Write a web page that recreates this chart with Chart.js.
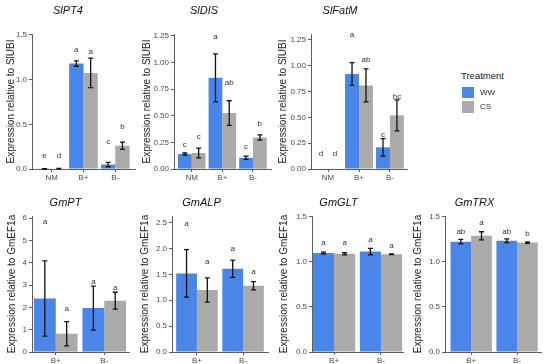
<!DOCTYPE html>
<html>
<head>
<meta charset="utf-8">
<script src="https://cdn.jsdelivr.net/npm/chart.js@4.4.0/dist/chart.umd.min.js"></script>
<style>
  html, body { margin:0; padding:0; background:#fff; width:550px; height:364px; overflow:hidden; position:relative; }
  .box { position:absolute; }
  .lg { position:absolute; font-family:'Liberation Sans', Arial, sans-serif; color:#222; white-space:nowrap; }
  .sw { position:absolute; width:12px; }
</style>
</head>
<body>
<div class="box" style="left:1px;top:0;width:150px;height:183px"><canvas id="c1"></canvas></div>
<div class="box" style="left:137px;top:0;width:160px;height:183px"><canvas id="c2"></canvas></div>
<div class="box" style="left:273px;top:0;width:174px;height:183px"><canvas id="c3"></canvas></div>
<div class="box" style="left:2px;top:188px;width:160px;height:176px"><canvas id="c4"></canvas></div>
<div class="box" style="left:135px;top:188px;width:170px;height:176px"><canvas id="c5"></canvas></div>
<div class="box" style="left:274px;top:188px;width:162px;height:176px"><canvas id="c6"></canvas></div>
<div class="box" style="left:408px;top:188px;width:170px;height:176px"><canvas id="c7"></canvas></div>

<!-- légende -->
<div class="lg" style="left:461px;top:70px;height:12px;line-height:12px;font-size:9.5px">Treatment</div>
<div class="sw" style="left:462px;top:87px;height:11px;background:#4a86e8"></div>
<div class="sw" style="left:462px;top:101px;height:12px;background:#aaaaaa"></div>
<div class="lg" style="left:480px;top:87px;height:12px;line-height:12px;font-size:8px">WW</div>
<div class="lg" style="left:480px;top:101px;height:12px;line-height:12px;font-size:8px">CS</div>

<script>
// ── catégories
const topCats = ['NM', 'B+', 'B-'];
const botCats = ['B+', 'B-'];

// ── SlPT4
const pt4WW = [0.002, 1.18, 0.05];
const pt4WWse = [0.002, 0.03, 0.025];
const pt4CS = [0.005, 1.075, 0.26];
const pt4CSse = [0.003, 0.165, 0.04];
const pt4WWlet = ['e', 'a', 'c'];
const pt4CSlet = ['d', 'a', 'b'];
const pt4WWletY = [0.15, 1.33, 0.31];
const pt4CSletY = [0.15, 1.31, 0.47];
const pt4Ticks = [0, 0.5, 1.0, 1.5];
const pt4Labels = ['0.0', '0.5', '1.0', '1.5'];

// ── SlDIS
const disWW = [0.14, 0.855, 0.105];
const disWWse = [0.01, 0.225, 0.015];
const disCS = [0.15, 0.525, 0.295];
const disCSse = [0.045, 0.115, 0.025];
const disWWlet = ['c', 'a', 'c'];
const disCSlet = ['c', 'ab', 'b'];
const disWWletY = [0.23, 1.24, 0.21];
const disCSletY = [0.30, 0.81, 0.42];
const disTicks = [0, 0.25, 0.5, 0.75, 1.0, 1.25];
const disLabels = ['0.00', '0.25', '0.50', '0.75', '1.00', '1.25'];

// ── SlFatM
const fatWW = [0, 0.92, 0.21];
const fatWWse = [0, 0.11, 0.085];
const fatCS = [0, 0.81, 0.52];
const fatCSse = [0, 0.16, 0.15];
const fatWWlet = ['d', 'a', 'c'];
const fatCSlet = ['d', 'ab', 'bc'];
const fatWWletY = [0.15, 1.30, 0.33];
const fatCSletY = [0.15, 1.06, 0.70];
const fatTicks = [0, 0.25, 0.5, 0.75, 1.0, 1.25];
const fatLabels = ['0.00', '0.25', '0.50', '0.75', '1.00', '1.25'];

// ── GmPT
const ptWW = [2.4, 1.97];
const ptWWse = [1.69, 0.985];
const ptCS = [0.82, 2.3];
const ptCSse = [0.545, 0.38];
const ptWWlet = ['a', 'a'];
const ptCSlet = ['a', 'a'];
const ptWWletY = [5.85, 3.13];
const ptCSletY = [1.93, 2.87];
const ptTicks = [0, 1, 2, 3, 4, 5, 6];
const ptLabels = ['0', '1', '2', '3', '4', '5', '6'];

// ── GmALP
const alpWW = [1.52, 1.61];
const alpWWse = [0.46, 0.165];
const alpCS = [1.20, 1.28];
const alpCSse = [0.235, 0.08];
const alpWWlet = ['a', 'a'];
const alpCSlet = ['a', 'a'];
const alpWWletY = [2.48, 2.0];
const alpCSletY = [1.75, 1.56];
const alpTicks = [0, 0.5, 1.0, 1.5, 2.0, 2.5];
const alpLabels = ['0.0', '0.5', '1.0', '1.5', '2.0', '2.5'];

// ── GmGLT
const gltWW = [1.10, 1.115];
const gltWWse = [0.01, 0.035];
const gltCS = [1.09, 1.085];
const gltCSse = [0.012, 0.004];
const gltWWlet = ['a', 'a'];
const gltCSlet = ['a', 'a'];
const gltWWletY = [1.21, 1.245];
const gltCSletY = [1.21, 1.18];
const gltTicks = [0, 0.5, 1.0, 1.5];
const gltLabels = ['0.0', '0.5', '1.0', '1.5'];

// ── GmTRX
const trxWW = [1.225, 1.235];
const trxWWse = [0.025, 0.02];
const trxCS = [1.29, 1.215];
const trxCSse = [0.045, 0.008];
const trxWWlet = ['ab', 'ab'];
const trxCSlet = ['a', 'b'];
const trxWWletY = [1.34, 1.34];
const trxCSletY = [1.44, 1.31];
const trxTicks = [0, 0.5, 1.0, 1.5];
const trxLabels = ['0.0', '0.5', '1.0', '1.5'];

const BLUE = '#4a86e8', GRAY = '#aaaaaa';
const FONT = "'Liberation Sans', Arial, sans-serif";

// barres d'erreur + lettres de significativité
const errPlugin = {
  id: 'errs',
  afterDatasetsDraw(chart) {
    const { ctx } = chart;
    const y = chart.scales.y;
    ctx.save();
    chart.data.datasets.forEach((ds, di) => {
      chart.getDatasetMeta(di).data.forEach((bar, i) => {
        const v = ds.data[i].y, e = ds.se[i];
        if (e > 0) {
          const yt = y.getPixelForValue(v + e), yb = y.getPixelForValue(v - e);
          ctx.strokeStyle = '#111'; ctx.lineWidth = 1.3;
          ctx.beginPath();
          ctx.moveTo(bar.x, yt); ctx.lineTo(bar.x, yb);
          ctx.moveTo(bar.x - 2.5, yt); ctx.lineTo(bar.x + 2.5, yt);
          ctx.moveTo(bar.x - 2.5, yb); ctx.lineTo(bar.x + 2.5, yb);
          ctx.stroke();
        }
        ctx.fillStyle = '#333';
        ctx.font = '8px ' + FONT;
        ctx.textAlign = 'center'; ctx.textBaseline = 'middle';
        ctx.fillText(ds.lab[i], bar.x, y.getPixelForValue(ds.labY[i]));
      });
    });
    ctx.restore();
  }
};

function panel(id, o) {
  const mk = (vals, se, lab, labY, col, name) => ({
    label: name, data: o.cats.map((c, i) => ({ x: i + 1, y: vals[i] })),
    se, lab, labY, backgroundColor: col, borderWidth: 0,
    categoryPercentage: 0.9, barPercentage: 1.0
  });
  const axisLine = { display: true, color: '#333', width: 0.8 };
  const tickGrid = { display: true, drawOnChartArea: false, drawTicks: true, tickLength: 3, color: '#333', lineWidth: 0.8, offset: false };
  new Chart(document.getElementById(id), {
    type: 'bar',
    data: { datasets: [
      mk(o.ww, o.wwSe, o.wwLet, o.wwLetY, BLUE, 'WW'),
      mk(o.cs, o.csSe, o.csLet, o.csLetY, GRAY, 'CS')
    ] },
    options: {
      animation: false, responsive: true, maintainAspectRatio: false,
      layout: { padding: { left: 0, right: o.padR, top: 0, bottom: 0 } },
      plugins: {
        legend: { display: false }, tooltip: { enabled: false },
        title: { display: true, text: o.title, color: '#111',
                 font: { family: FONT, size: 11, style: 'italic', weight: 'normal' },
                 padding: { top: o.tTop, bottom: o.tBot } }
      },
      scales: {
        x: {
          type: 'linear', min: o.xMin, max: o.xMax, offset: false, bounds: 'data',
          afterBuildTicks: s => { s.ticks = o.cats.map((c, i) => ({ value: i + 1 })); },
          afterFit: s => { s.height = o.xH; },
          grid: tickGrid, border: axisLine,
          ticks: { callback: v => o.cats[Math.round(v) - 1], font: { family: FONT, size: 8 }, color: '#4d4d4d',
                   padding: 1, maxRotation: 0, autoSkip: false }
        },
        y: {
          type: 'linear', min: 0, max: o.yMax, bounds: 'data',
          afterBuildTicks: s => { s.ticks = o.yTicks.map(v => ({ value: v })); },
          afterFit: s => { s.width = o.axisX - o.left; },
          grid: tickGrid, border: axisLine,
          ticks: { callback: (v, i) => o.yLabels[i], font: { family: FONT, size: 8 }, color: '#4d4d4d', padding: 2 },
          title: { display: true, text: o.yTitle, color: '#222', font: { family: FONT, size: 10 }, padding: { top: 4, bottom: 0 } }
        }
      }
    },
    plugins: [errPlugin]
  });
}

const topRow = { cats: topCats, tTop: 4.4, tBot: 16.4, xH: 14, yTitle: 'Expression relative to SlUBI' };
const botRow = { cats: botCats, tTop: 8.4, tBot: 6.4, xH: 12, yTitle: 'Expression relative to GmEF1a' };

panel('c1', { ...topRow, title: 'SlPT4', left: 1, axisX: 32, padR: 16, xMin: 0.38, xMax: 3.62, yMax: 1.511,
  ww: pt4WW, wwSe: pt4WWse, cs: pt4CS, csSe: pt4CSse, wwLet: pt4WWlet, csLet: pt4CSlet, wwLetY: pt4WWletY, csLetY: pt4CSletY,
  yTicks: pt4Ticks, yLabels: pt4Labels });
panel('c2', { ...topRow, title: 'SlDIS', left: 137, axisX: 174, padR: 26, xMin: 0.42, xMax: 3.59, yMax: 1.266,
  ww: disWW, wwSe: disWWse, cs: disCS, csSe: disCSse, wwLet: disWWlet, csLet: disCSlet, wwLetY: disWWletY, csLetY: disCSletY,
  yTicks: disTicks, yLabels: disLabels });
panel('c3', { ...topRow, title: 'SlFatM', left: 273, axisX: 311, padR: 40, xMin: 0.45, xMax: 3.55, yMax: 1.308,
  ww: fatWW, wwSe: fatWWse, cs: fatCS, csSe: fatCSse, wwLet: fatWWlet, csLet: fatCSlet, wwLetY: fatWWletY, csLetY: fatCSletY,
  yTicks: fatTicks, yLabels: fatLabels });
panel('c4', { ...botRow, title: 'GmPT', left: 2, axisX: 32, padR: 33, xMin: 0.51, xMax: 2.51, yMax: 6.10,
  ww: ptWW, wwSe: ptWWse, cs: ptCS, csSe: ptCSse, wwLet: ptWWlet, csLet: ptCSlet, wwLetY: ptWWletY, csLetY: ptCSletY,
  yTicks: ptTicks, yLabels: ptLabels });
panel('c5', { ...botRow, title: 'GmALP', left: 135, axisX: 172, padR: 37, xMin: 0.46, xMax: 2.54, yMax: 2.63,
  ww: alpWW, wwSe: alpWWse, cs: alpCS, csSe: alpCSse, wwLet: alpWWlet, csLet: alpCSlet, wwLetY: alpWWletY, csLetY: alpCSletY,
  yTicks: alpTicks, yLabels: alpLabels });
panel('c6', { ...botRow, title: 'GmGLT', left: 274, axisX: 312, padR: 33, xMin: 0.53, xMax: 2.47, yMax: 1.51,
  ww: gltWW, wwSe: gltWWse, cs: gltCS, csSe: gltCSse, wwLet: gltWWlet, csLet: gltCSlet, wwLetY: gltWWletY, csLetY: gltCSletY,
  yTicks: gltTicks, yLabels: gltLabels });
panel('c7', { ...botRow, title: 'GmTRX', left: 408, axisX: 445, padR: 37, xMin: 0.43, xMax: 2.52, yMax: 1.51,
  ww: trxWW, wwSe: trxWWse, cs: trxCS, csSe: trxCSse, wwLet: trxWWlet, csLet: trxCSlet, wwLetY: trxWWletY, csLetY: trxCSletY,
  yTicks: trxTicks, yLabels: trxLabels });
</script>
</body>
</html>
